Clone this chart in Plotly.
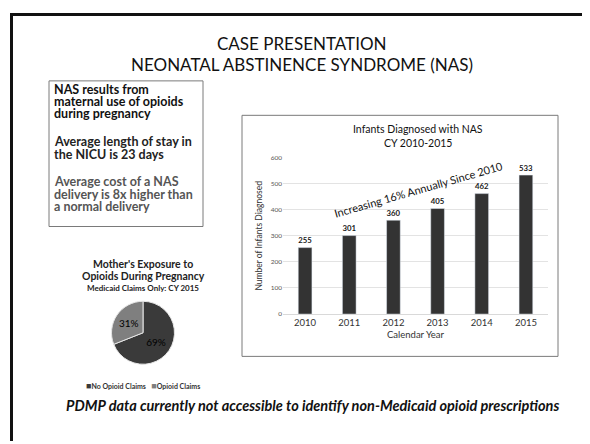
import plotly.graph_objects as go

years = ["2010", "2011", "2012", "2013", "2014", "2015"]
infants = [255, 301, 360, 405, 462, 533]
y_ticks = [0, 100, 200, 300, 400, 500, 600]

pie_labels = ["No Opioid Claims", "Opioid Claims"]
pie_values = [69, 31]

# page body has an 8px default margin: lay out in window pixels, draw figure offset
OFF = 8
W, H = 590 - OFF, 444 - OFF
FONT = "Lato"

def px(x):
    return (x - OFF) / W

def py(y):
    return 1 - (y - OFF) / H

fig = go.Figure()

fig.add_trace(go.Bar(
    x=years, y=infants,
    marker=dict(color="#333333"),
    width=0.31,
    text=[f"<b>{v}</b>" for v in infants],
    textposition="outside",
    textfont=dict(family=FONT, size=10, color="#1a1a1a"),
    cliponaxis=False,
    showlegend=False,
))

fig.add_trace(go.Pie(
    labels=pie_labels, values=pie_values,
    marker=dict(colors=["#3a3a3a", "#7f7f7f"], line=dict(color="#e6e6e6", width=1)),
    sort=False, direction="clockwise", rotation=0,
    textinfo="percent", textposition="inside",
    insidetextfont=dict(family=FONT, size=10, color="#000000"),
    domain=dict(x=[px(111), px(175)], y=[py(366), py(302)]),
    showlegend=False, hoverinfo="label+percent",
))

fig.update_layout(
    width=W, height=H,
    margin=dict(l=0, r=0, t=0, b=0),
    paper_bgcolor="white", plot_bgcolor="white",
    font=dict(family=FONT, color="#222222"),
    xaxis=dict(
        domain=[px(283), px(548)],
        anchor="y",
        showgrid=False, showline=True, linecolor="#d9d9d9", linewidth=1,
        ticks="", tickfont=dict(family=FONT, size=9.5, color="#333333"),
        title=dict(text="Calendar Year", font=dict(family=FONT, size=9.5, color="#333333"), standoff=3),
    ),
    yaxis=dict(
        domain=[py(315), py(156)],
        anchor="x",
        range=[0, 600], tickvals=y_ticks,
        showgrid=True, gridcolor="#e3e3e3", gridwidth=1,
        zeroline=False, showline=False, ticks="",
        tickfont=dict(family=FONT, size=6.5, color="#555555"),
        title=dict(text="Number of Infants Diagnosed", font=dict(family=FONT, size=8.5, color="#333333"), standoff=6),
    ),
)

shapes = [
    # slide border
    dict(type="line", xref="paper", yref="paper", x0=px(10), x1=1.0, y0=py(10.5), y1=py(10.5),
         line=dict(color="#111111", width=3)),
    dict(type="line", xref="paper", yref="paper", x0=px(11.5), x1=px(11.5), y0=py(9), y1=0,
         line=dict(color="#111111", width=3)),
    # text box
    dict(type="rect", xref="paper", yref="paper", x0=px(49), x1=px(203), y0=py(226), y1=py(78),
         line=dict(color="#7a7a7a", width=1)),
    # bar chart box
    dict(type="rect", xref="paper", yref="paper", x0=px(242), x1=px(558), y0=py(358), y1=py(113),
         line=dict(color="#7a7a7a", width=1)),
]
fig.update_layout(shapes=shapes)

ann = []
def text(x, y, s, size, color="#111111", xanchor="center", bold=False, italic=False, angle=0, font=FONT):
    if bold:
        s = f"<b>{s}</b>"
    if italic:
        s = f"<i>{s}</i>"
    ann.append(dict(x=px(x), y=py(y), xref="paper", yref="paper", text=s, showarrow=False,
                    xanchor=xanchor, yanchor="middle", textangle=angle,
                    font=dict(family=font, size=size, color=color)))

text(302, 40, "CASE PRESENTATION", 17, "#111111")
text(302, 61, "NEONATAL ABSTINENCE SYNDROME (NAS)", 17, "#111111")

box_lines = [
    ("NAS results from", 86.5, "#111111"),
    ("maternal use of opioids", 99, "#111111"),
    ("during pregnancy", 111.5, "#111111"),
    ("Average length of stay in", 140, "#222222"),
    ("the NICU is 23 days", 152.5, "#222222"),
    ("Average cost of a NAS", 180.5, "#555555"),
    ("delivery is 8x higher than", 193, "#555555"),
    ("a normal delivery", 205.5, "#555555"),
]
for s, y, c in box_lines:
    text(52, y, s, 12.5, c, xanchor="left", bold=True)

# bar chart title
text(418, 127, "Infants Diagnosed with NAS", 10.5, "#111111")
text(418, 141, "CY 2010-2015", 10.5, "#111111")
text(418, 188, "Increasing 16% Annually Since 2010", 11, "#111111", angle=-16)

# pie titles
text(143, 264, "Mother's Exposure to", 10.5, "#222222", bold=True)
text(143, 276, "Opioids During Pregnancy", 10.5, "#222222", bold=True)
text(143, 288, "Medicaid Claims Only: CY 2015", 8, "#222222", bold=True)
ann.append(dict(x=px(143), y=py(388), xref="paper", yref="paper", showarrow=False,
                xanchor="center", yanchor="middle",
                text="<span style='color:#3a3a3a;font-size:9px'>■</span><b>No Opioid Claims</b>   "
                     "<span style='color:#7f7f7f;font-size:9px'>■</span><b>Opioid Claims</b>",
                font=dict(family=FONT, size=7, color="#333333")))

text(312, 408, "PDMP data currently not accessible to identify non-Medicaid opioid prescriptions",
     14.5, "#111111", bold=True, italic=True)

fig.update_layout(annotations=ann)

fig.write_html("out.html")
